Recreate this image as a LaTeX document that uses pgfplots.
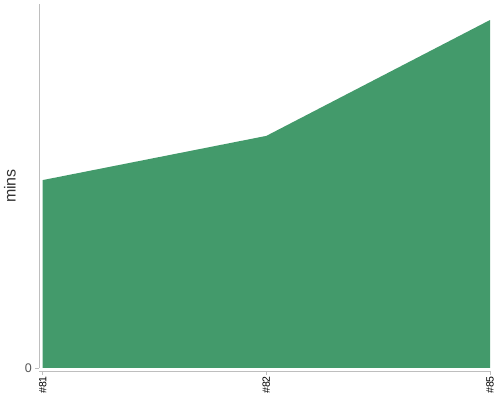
\documentclass[border=0pt]{standalone}
\usepackage{pgfplots}
\pgfplotsset{compat=1.18}
\usepackage{fontspec}
\setmainfont{Liberation Sans}
\definecolor{areagreen}{RGB}{67,154,107}
\definecolor{axgray}{RGB}{190,190,190}
\definecolor{lblgray}{RGB}{85,85,85}
\begin{document}
\begin{tikzpicture}
\useasboundingbox (0,0) rectangle (500bp,400bp);
\begin{axis}[
  at={(39.3bp,32bp)}, anchor=south west,
  scale only axis,
  width=450.7bp, height=364bp,
  xmin=-0.0152, xmax=2,
  ymin=0, ymax=104.6,
  axis y line=left, axis x line=bottom,
  axis x line shift=3bp,
  axis line style={axgray, line width=0.8bp, -},
  xtick={0,1,2},
  xticklabels={\#81,\#82,\#85},
  ytick={0},
  x tick label style={rotate=90, anchor=east, font=\fontsize{10.5bp}{12bp}\selectfont, text=black, inner sep=1bp},
  y tick label style={font=\fontsize{12.5bp}{14bp}\selectfont, text=lblgray},
  /pgf/number format/assume math mode=true,
  major tick length=4bp,
  tick style={axgray, line width=0.8bp},
  xtick align=outside, ytick align=outside,
  ylabel={mins},
  ylabel style={font=\fontsize{16bp}{18bp}\selectfont, text=black!80, at={(axis description cs:0,0.5)}, anchor=south, yshift=20bp},
  clip=false,
]
\addplot[draw=none, fill=areagreen] coordinates {(0,54.0) (1,66.7) (2,100.0)} \closedcycle;
\end{axis}
\end{tikzpicture}
\end{document}
